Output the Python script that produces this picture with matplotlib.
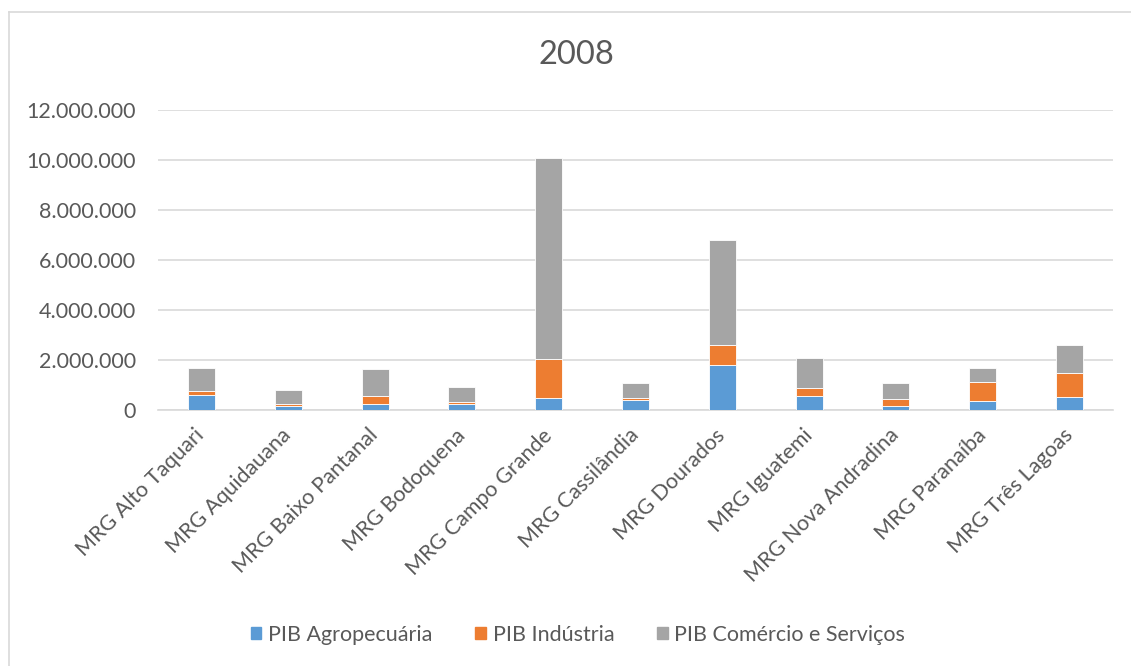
import matplotlib
matplotlib.use("Agg")
import matplotlib.pyplot as plt
import numpy as np
from matplotlib.ticker import FuncFormatter
from matplotlib.lines import Line2D

categories = ["MRG Alto Taquari", "MRG Aquidauana", "MRG Baixo Pantanal", "MRG Bodoquena",
              "MRG Campo Grande", "MRG Cassilândia", "MRG Dourados", "MRG Iguatemi",
              "MRG Nova Andradina", "MRG Paranaíba", "MRG Três Lagoas"]
agro = [606000, 162000, 258000, 258000, 493000, 420000, 1800000, 580000, 162000, 364000, 525000]
industria = [149000, 68000, 322000, 82000, 1550000, 60000, 790000, 308000, 270000, 766000, 955000]
servicos = [945000, 554000, 1060000, 590000, 8030000, 610000, 4210000, 1210000, 648000, 540000, 1140000]
series_names = ["PIB Agropecuária", "PIB Indústria", "PIB Comércio e Serviços"]
colors = ["#5B9BD5", "#ED7D31", "#A5A5A5"]
yticks = [0, 2000000, 4000000, 6000000, 8000000, 10000000, 12000000]

plt.rcParams['font.family'] = ['Lato', 'DejaVu Sans']
txt = "#595959"

fig = plt.figure(figsize=(11.31, 6.66), dpi=100)
ax = fig.add_axes([158/1131, 1-410/666, (1113-158)/1131, 300/666])

x = np.arange(len(categories))
bottom = np.zeros(len(categories))
for vals, name, c in zip([agro, industria, servicos], series_names, colors):
    ax.bar(x, vals, 0.31, bottom=bottom, color=c, label=name, edgecolor="white", linewidth=0.6, zorder=3)
    bottom += np.array(vals)

ax.set_xlim(-0.5, len(categories) - 0.5)
ax.set_ylim(0, 12000000)
ax.set_yticks(yticks)
ax.yaxis.set_major_formatter(FuncFormatter(lambda v, p: f"{int(v):,}".replace(",", ".")))
ax.grid(axis="y", color="#D9D9D9", linewidth=1.2, zorder=0)
for s in ["top", "right", "left"]:
    ax.spines[s].set_visible(False)
ax.spines["bottom"].set_color("#D9D9D9")
ax.spines["bottom"].set_linewidth(1.2)
ax.tick_params(axis="y", length=0, labelsize=15.5, labelcolor=txt, pad=16)
ax.tick_params(axis="x", length=0, pad=16)
ax.set_xticks(x)
ax.set_xticklabels(categories, rotation=45, ha="right", va="center", rotation_mode="anchor",
                   fontsize=15.5, color=txt)

fig.text(576/1131, 1-55/666, "2008", ha="center", va="center", fontsize=23.5, color=txt)

handles = [plt.Rectangle((0, 0), 1, 1, color=c) for c in colors]
fig.legend(handles, series_names, loc="center", bbox_to_anchor=(578/1131, 1-635/666), ncol=3,
           frameon=False, fontsize=15.5, labelcolor=txt, handlelength=0.5, handleheight=0.5,
           handletextpad=0.3, columnspacing=2.0)

fig.add_artist(Line2D([9/1131, 9/1131], [0, 1-12/666], color="#D9D9D9", linewidth=1.2))
fig.add_artist(Line2D([9/1131, 1], [1-12/666, 1-12/666], color="#D9D9D9", linewidth=1.2))

fig.savefig("out.png", dpi=100, facecolor="white")
